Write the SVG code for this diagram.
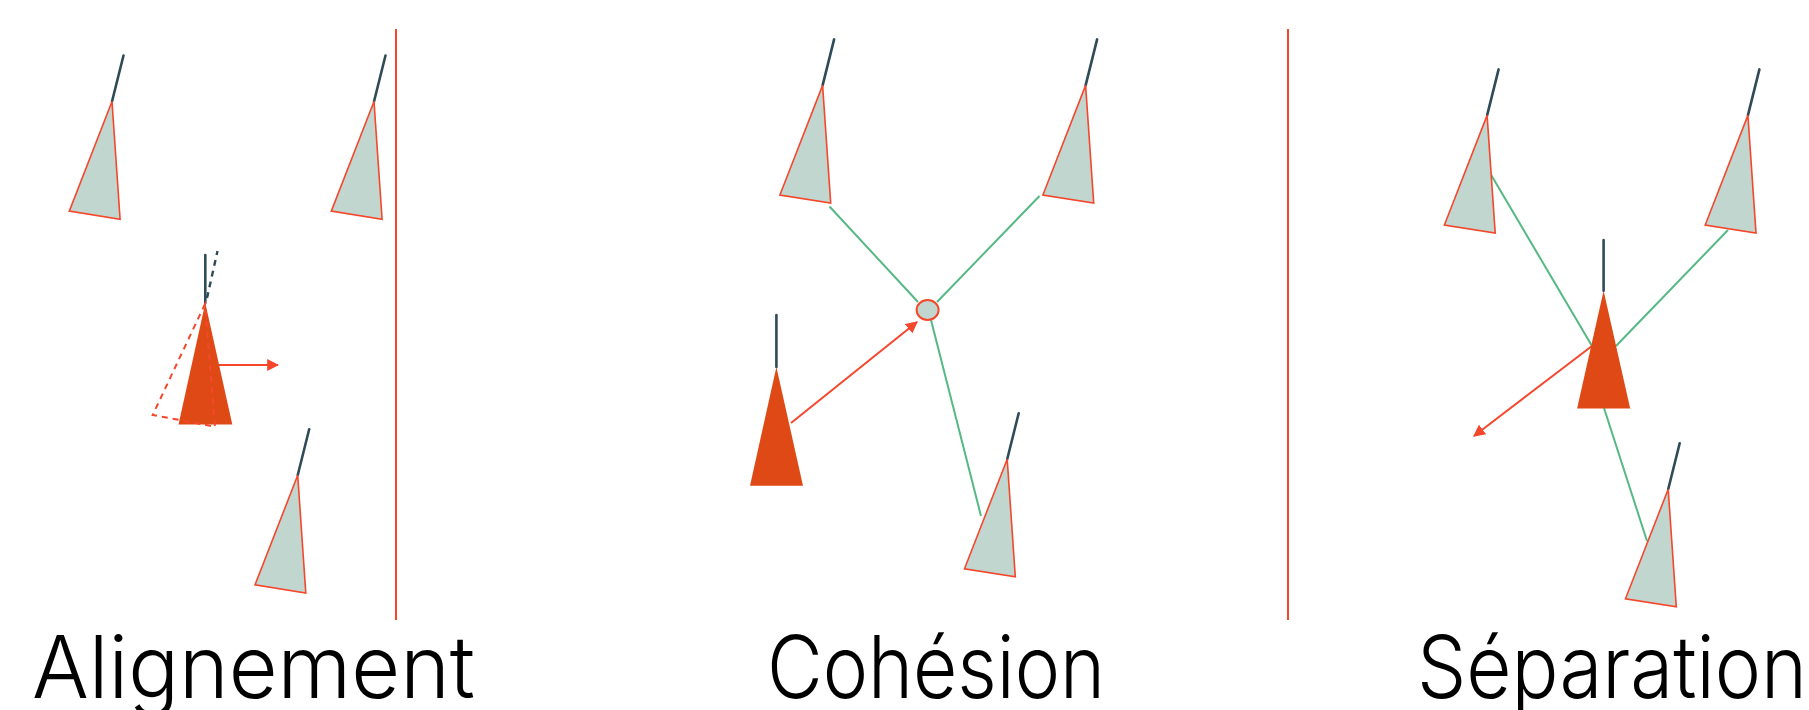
<svg xmlns="http://www.w3.org/2000/svg" width="1809" height="710" viewBox="0 0 1809 710">
<style>
.boid{fill:#c1d6cf;stroke:#f5472c;stroke-width:1.6;stroke-linejoin:miter}
.mast{stroke:#2f4b57;stroke-width:2.6;fill:none;stroke-linecap:round}
.me{fill:#df4916;stroke:none}
.link{stroke:#56b884;stroke-width:2;fill:none}
.arrow{stroke:#f5472c;stroke-width:2;fill:none}
.sep{stroke:#f5472c;stroke-width:2}
.ghost{fill:none;stroke:#f5472c;stroke-width:2;stroke-dasharray:6 5}
.ghostmast{fill:none;stroke:#2f4b57;stroke-width:2.4;stroke-dasharray:6 5}
.label{font-family:Inter,"Liberation Sans",sans-serif;font-weight:300;font-size:86px;fill:#000}
</style>
<defs>
<marker id="ah" viewBox="0 0 10 10" refX="9" refY="5" markerWidth="6" markerHeight="6" markerUnits="strokeWidth" orient="auto">
<path d="M0,0 L10,5 L0,10 z" fill="#f5472c"/>
</marker>
<g id="boidshape">
<line class="mast" x1="0" y1="0" x2="11.5" y2="-46"/>
<polygon class="boid" points="0,0 -42.7,109.6 8.1,117.7"/>
</g>
</defs>

<g id="separators">
<line class="sep" x1="396" y1="29" x2="396" y2="620"/>
<line class="sep" x1="1288" y1="29" x2="1288" y2="620"/>
</g>

<g id="connectors">
<line class="arrow" x1="219" y1="365" x2="278" y2="365" marker-end="url(#ah)"/>
<line class="link" x1="829.5" y1="206.5" x2="918" y2="302"/>
<line class="link" x1="1039.5" y1="196" x2="937" y2="302"/>
<line class="link" x1="931" y1="320" x2="981" y2="516"/>
<line class="arrow" x1="791" y1="423" x2="917" y2="322" marker-end="url(#ah)"/>
<line class="link" x1="1490" y1="173" x2="1592" y2="346"/>
<line class="link" x1="1728" y1="230" x2="1616" y2="346"/>
<line class="link" x1="1604" y1="408" x2="1647" y2="541"/>
<line class="arrow" x1="1592" y1="346" x2="1474" y2="436" marker-end="url(#ah)"/>
</g>

<g id="alignement">
<g id="a-boid1"><use href="#boidshape" x="112" y="101.5"/></g>
<g id="a-boid2"><use href="#boidshape" x="374" y="101.5"/></g>
<g id="a-boid3"><use href="#boidshape" x="297.7" y="475.3"/></g>
<g id="a-self">
<line class="ghostmast" x1="207" y1="298" x2="217.5" y2="251"/>
<polygon class="me" points="205.3,303 232.3,424.6 178.5,424.6"/>
<line class="mast" x1="205.3" y1="255" x2="205.3" y2="303"/>
<polygon class="ghost" points="205,304 152.7,415 215,426.7"/>
</g>
</g>

<g id="cohesion">
<g id="c-boid1"><use href="#boidshape" x="822.6" y="85.4"/></g>
<g id="c-boid2"><use href="#boidshape" x="1085.6" y="85.4"/></g>
<g id="c-boid3"><use href="#boidshape" x="1007.2" y="459.2"/></g>
<g id="c-center"><ellipse cx="927.6" cy="310" rx="11" ry="10" fill="#c1d6cf" stroke="#f5472c" stroke-width="2"/></g>
<g id="c-self">
<polygon class="me" points="776.4,367 803,485.7 750,485.7"/>
<line class="mast" x1="776.4" y1="315" x2="776.4" y2="367"/>
</g>
</g>

<g id="separation">
<g id="s-boid1"><use href="#boidshape" x="1487.1" y="115.4"/></g>
<g id="s-boid2"><use href="#boidshape" x="1747.9" y="115.4"/></g>
<g id="s-boid3"><use href="#boidshape" x="1668.2" y="489.2"/></g>
<g id="s-self">
<polygon class="me" points="1603.6,290.7 1630.2,408.4 1577.1,408.4"/>
<line class="mast" x1="1603.6" y1="240" x2="1603.6" y2="290.7"/>
</g>
</g>

<g id="labels">
<text class="label" x="32" y="698" textLength="443" lengthAdjust="spacingAndGlyphs">Alignement</text>
<text class="label" x="767" y="698" textLength="338" lengthAdjust="spacingAndGlyphs">Cohésion</text>
<text class="label" x="1417" y="698" textLength="390" lengthAdjust="spacingAndGlyphs">Séparation</text>
</g>
</svg>
